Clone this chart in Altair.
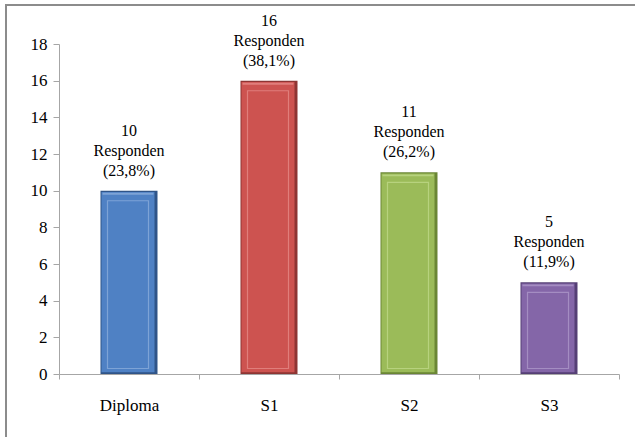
import altair as alt
import pandas as pd

# Respondent counts by education level
categories = ["Diploma", "S1", "S2", "S3"]
counts = [10, 16, 11, 5]
percents = ["23,8%", "38,1%", "26,2%", "11,9%"]
base_colors = ["#4F81C4", "#CD5350", "#9BBB59", "#8466A8"]
edge_colors = ["#2F5488", "#8E3533", "#6A8634", "#553F75"]
light_colors = ["#7DA3D6", "#E07E7B", "#B7D27E", "#A48DC2"]
y_ticks = [0, 2, 4, 6, 8, 10, 12, 14, 16, 18]

df = pd.DataFrame({
    "kategori": categories,
    "jumlah": counts,
    "persen": percents,
    "warna": base_colors,
    "tepi": edge_colors,
    "terang": light_colors,
})
df["label"] = [f"{n}\nResponden\n({p})" for n, p in zip(counts, percents)]

FONT = "'Times New Roman', 'Liberation Serif', serif"

x_enc = alt.X(
    "kategori:N",
    sort=categories,
    scale=alt.Scale(paddingInner=0, paddingOuter=0),
    axis=alt.Axis(title=None, labelAngle=0, tickBand="extent", tickSize=5, labelPadding=18),
)
y_scale = alt.Scale(domain=[0, 18])
y_axis = alt.Axis(title=None, values=y_ticks, grid=False, tickSize=6,
                  labelOverlap=False, labelPadding=6)

base = alt.Chart(df)

# outer dark edge of each bar
outer = base.mark_bar(size=57).encode(
    x=x_enc,
    y=alt.Y("jumlah:Q", scale=y_scale, axis=y_axis),
    fill=alt.Fill("tepi:N", scale=None),
)

# main face, nudged left so the right rim stays darker
face = base.transform_calculate(
    atas="datum.jumlah - 0.07", bawah="0.1"
).mark_bar(size=53, xOffset=-1).encode(
    x=x_enc,
    y=alt.Y("atas:Q", scale=y_scale, axis=y_axis),
    y2="bawah:Q",
    fill=alt.Fill("warna:N", scale=None),
)

# top highlight strip
sorot = base.transform_calculate(
    atas="datum.jumlah - 0.12", bawah="datum.jumlah - 0.22"
).mark_bar(size=51, xOffset=-1).encode(
    x=x_enc,
    y=alt.Y("atas:Q", scale=y_scale, axis=y_axis),
    y2="bawah:Q",
    fill=alt.Fill("terang:N", scale=None),
)

# inner bevelled panel
panel = base.transform_calculate(
    atas="datum.jumlah - 0.55", bawah="0.3"
).mark_bar(size=41, xOffset=-1, strokeWidth=1.2).encode(
    x=x_enc,
    y=alt.Y("atas:Q", scale=y_scale, axis=y_axis),
    y2="bawah:Q",
    fill=alt.Fill("warna:N", scale=None),
    stroke=alt.Stroke("terang:N", scale=None),
)

labels = base.mark_text(
    baseline="top", dy=-68, lineBreak="\n", lineHeight=20,
    font=FONT, fontSize=16, color="#000000",
).encode(
    x=x_enc,
    y=alt.Y("jumlah:Q", scale=y_scale, axis=y_axis),
    text="label:N",
)

# outer frame around the chart
frame = alt.Chart(pd.DataFrame({"k": [0]})).mark_rect(
    fill=None, stroke="#8C8C8C", strokeWidth=2
).encode(
    x=alt.value(-53), x2=alt.value(640), y=alt.value(-39), y2=alt.value(480)
)

chart = alt.layer(frame, outer, face, sorot, panel, labels).properties(
    width=560, height=330,
    autosize=alt.AutoSizeParams(type="none"),
    padding={"left": 59, "top": 44, "right": 16, "bottom": 63},
    background="#FFFFFF",
).configure_view(stroke=None).configure_axis(
    labelFont=FONT, labelFontSize=17, labelColor="#000000",
    domainColor="#A6A6A6", tickColor="#A6A6A6",
)

chart.save("out.html", embed_options={"renderer": "svg", "actions": False})
